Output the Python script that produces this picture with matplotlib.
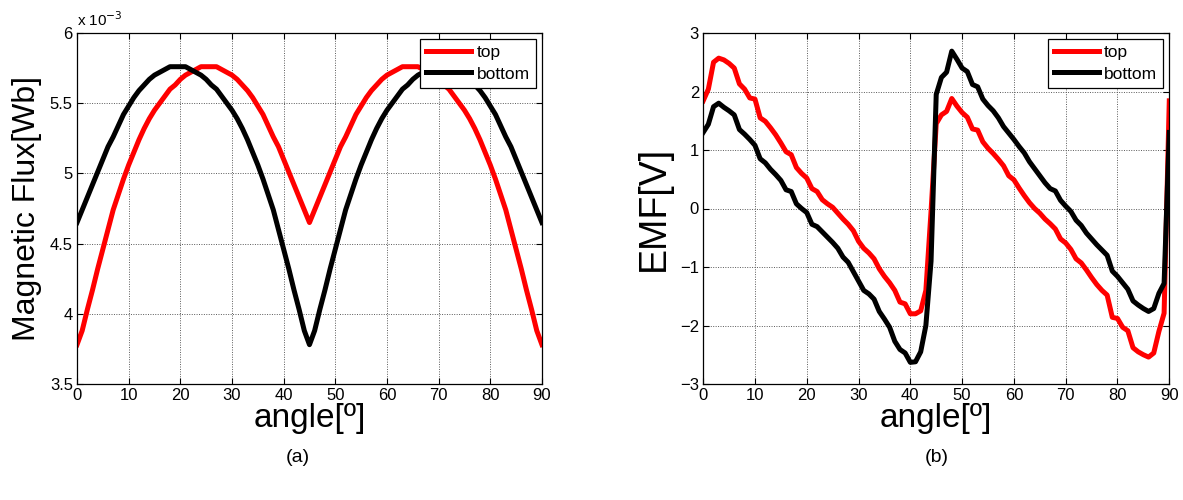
import matplotlib
matplotlib.use("Agg")
import matplotlib.pyplot as plt

plt.rcParams['font.family'] = ['Liberation Sans', 'DejaVu Sans']

angle = list(range(0, 91))

# magnetic flux, in units of 1e-3 Wb
flux_top = [3.78, 3.88, 4.03, 4.17, 4.32, 4.46, 4.60, 4.74, 4.85, 4.96,
            5.06, 5.15, 5.24, 5.32, 5.39, 5.45, 5.50, 5.55, 5.60, 5.63,
            5.67, 5.70, 5.72, 5.74, 5.76, 5.76, 5.76, 5.76, 5.74, 5.72,
            5.70, 5.67, 5.63, 5.59, 5.54, 5.48, 5.42, 5.34, 5.26, 5.19,
            5.10, 5.01, 4.92, 4.83, 4.74, 4.65, 4.74, 4.83, 4.92, 5.01,
            5.10, 5.19, 5.26, 5.34, 5.42, 5.48, 5.54, 5.59, 5.63, 5.67,
            5.70, 5.72, 5.74, 5.76, 5.76, 5.76, 5.76, 5.74, 5.72, 5.70,
            5.67, 5.63, 5.60, 5.55, 5.50, 5.45, 5.39, 5.32, 5.24, 5.15,
            5.06, 4.96, 4.85, 4.74, 4.60, 4.46, 4.32, 4.17, 4.03, 3.88,
            3.78]
flux_bottom = [4.65, 4.74, 4.83, 4.92, 5.01, 5.10, 5.19, 5.26, 5.34, 5.42,
               5.48, 5.54, 5.59, 5.63, 5.67, 5.70, 5.72, 5.74, 5.76, 5.76,
               5.76, 5.76, 5.74, 5.72, 5.70, 5.67, 5.63, 5.60, 5.55, 5.50,
               5.45, 5.39, 5.32, 5.24, 5.15, 5.06, 4.96, 4.85, 4.74, 4.60,
               4.46, 4.32, 4.17, 4.03, 3.88, 3.78, 3.88, 4.03, 4.17, 4.32,
               4.46, 4.60, 4.74, 4.85, 4.96, 5.06, 5.15, 5.24, 5.32, 5.39,
               5.45, 5.50, 5.55, 5.60, 5.63, 5.67, 5.70, 5.72, 5.74, 5.76,
               5.76, 5.76, 5.76, 5.74, 5.72, 5.70, 5.67, 5.63, 5.59, 5.54,
               5.48, 5.42, 5.34, 5.26, 5.19, 5.10, 5.01, 4.92, 4.83, 4.74,
               4.65]

emf_top = [1.84, 2.04, 2.50, 2.57, 2.54, 2.48, 2.40, 2.13, 2.04, 1.89,
           1.87, 1.55, 1.49, 1.38, 1.26, 1.12, 0.97, 0.92, 0.70, 0.60,
           0.52, 0.34, 0.29, 0.15, 0.08, 0.02, -0.08, -0.18, -0.27, -0.38,
           -0.56, -0.68, -0.76, -0.86, -1.03, -1.16, -1.27, -1.40, -1.60, -1.63,
           -1.80, -1.80, -1.75, -1.40, -0.05, 1.45, 1.60, 1.66, 1.88, 1.75,
           1.64, 1.56, 1.36, 1.34, 1.14, 1.03, 0.94, 0.84, 0.73, 0.56,
           0.49, 0.35, 0.22, 0.10, 0.00, -0.08, -0.18, -0.26, -0.35, -0.52,
           -0.59, -0.70, -0.86, -0.93, -1.05, -1.18, -1.30, -1.40, -1.48, -1.86,
           -1.88, -2.03, -2.09, -2.38, -2.45, -2.50, -2.54, -2.47, -2.10, -1.79,
           1.84]
emf_bottom = [1.30, 1.44, 1.74, 1.80, 1.73, 1.67, 1.60, 1.35, 1.27, 1.18,
              1.08, 0.85, 0.78, 0.67, 0.58, 0.48, 0.32, 0.29, 0.08, 0.00,
              -0.07, -0.27, -0.31, -0.40, -0.49, -0.58, -0.68, -0.83, -0.92, -1.08,
              -1.24, -1.40, -1.46, -1.55, -1.76, -1.89, -2.03, -2.27, -2.41, -2.47,
              -2.63, -2.62, -2.45, -2.00, -0.90, 1.95, 2.24, 2.33, 2.69, 2.55,
              2.40, 2.34, 2.12, 2.08, 1.87, 1.76, 1.67, 1.55, 1.40, 1.29,
              1.18, 1.06, 0.95, 0.80, 0.68, 0.56, 0.44, 0.34, 0.30, 0.14,
              0.04, -0.05, -0.20, -0.29, -0.42, -0.52, -0.62, -0.71, -0.80, -1.07,
              -1.16, -1.27, -1.38, -1.58, -1.65, -1.71, -1.76, -1.71, -1.45, -1.28,
              1.30]

xticks = list(range(0, 91, 10))
flux_ticks = [3.5, 4, 4.5, 5, 5.5, 6]
emf_ticks = [-3, -2, -1, 0, 1, 2, 3]


def style(ax):
    ax.grid(True, color='0.35', linestyle=(0, (1, 1.5)), linewidth=0.7)
    ax.tick_params(direction='in', top=True, right=True, labelsize=12,
                   length=4, width=0.8, pad=3)
    for s in ax.spines.values():
        s.set_linewidth(0.9)
    ax.set_xlim(0, 90)
    ax.set_xticks(xticks)
    ax.legend(loc='upper right', fontsize=12.5, fancybox=False, edgecolor='black',
              framealpha=1, handlelength=2.6, borderaxespad=0.35,
              borderpad=0.35, labelspacing=0.35, handletextpad=0.3)
    ax.get_legend().get_frame().set_linewidth(0.9)


fig = plt.figure(figsize=(11.83, 5.0), dpi=100)

ax1 = fig.add_axes([0.0651, 0.232, 0.393, 0.702])
ax1.plot(angle, flux_top, color='red', lw=3.6, label='top')
ax1.plot(angle, flux_bottom, color='black', lw=3.6, label='bottom')
ax1.set_ylim(3.5, 6)
ax1.set_yticks(flux_ticks)
ax1.set_yticklabels(['3.5', '4', '4.5', '5', '5.5', '6'])
ax1.set_xlabel('angle[º]', fontsize=24, labelpad=0)
ax1.set_ylabel('Magnetic Flux[Wb]', fontsize=23, labelpad=6)
ax1.text(0.0, 1.01, 'x 10$^{-3}$', transform=ax1.transAxes, fontsize=11,
         ha='left', va='bottom')
style(ax1)

ax2 = fig.add_axes([0.5944, 0.232, 0.394, 0.702])
ax2.plot(angle, emf_top, color='red', lw=3.6, label='top')
ax2.plot(angle, emf_bottom, color='black', lw=3.6, label='bottom')
ax2.set_ylim(-3, 3)
ax2.set_yticks(emf_ticks)
ax2.set_xlabel('angle[º]', fontsize=24, labelpad=0)
ax2.set_ylabel('EMF[V]', fontsize=27, labelpad=6)
style(ax2)

fig.text(0.252, 0.084, '(a)', fontsize=14, ha='center', va='center')
fig.text(0.792, 0.084, '(b)', fontsize=14, ha='center', va='center')

fig.savefig('out.png', dpi=100)
